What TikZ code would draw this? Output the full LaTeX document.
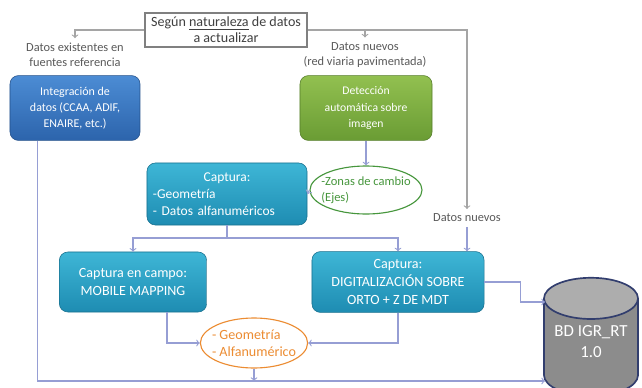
\documentclass[tikz,border=0pt]{standalone}
\usepackage{fontspec}
\setmainfont{Carlito}
\usetikzlibrary{shapes.geometric}
\definecolor{blueA}{RGB}{76,140,212}
\definecolor{blueB}{RGB}{44,100,172}
\definecolor{greenA}{RGB}{146,192,80}
\definecolor{greenB}{RGB}{106,156,52}
\definecolor{tealA}{RGB}{62,182,214}
\definecolor{tealB}{RGB}{30,140,178}
\definecolor{linegray}{RGB}{165,165,165}
\definecolor{linelav}{RGB}{150,158,212}
\definecolor{zonegreen}{RGB}{70,150,60}
\definecolor{geoorange}{RGB}{236,140,50}
\definecolor{dbnavy}{RGB}{50,62,110}
\begin{document}
\begin{tikzpicture}[x=0.025cm,y=-0.025cm]
        \tikzstyle{label}=[align=center,text=black!65,font=\fontsize{8.8}{10.8}\selectfont]
        \tikzstyle{stage}=[rounded corners=6pt,draw=#1B!80!black,top color=#1A,bottom color=#1B,text=white,align=center]
        \tikzstyle{result}=[ellipse,thick,fill=white,align=left,inner xsep=-7pt,inner ysep=0pt]
        \tikzstyle{edge}=[draw,thick,linelav,->]
        \tikzstyle{topedge}=[draw,thick,linegray,->]
        \useasboundingbox (0,0) rectangle (642,387);
        \begin{scope}
           % criterio y etiquetas
           \node [draw=black!50,thick,fill=white,minimum width=4.05cm,minimum height=0.85cm,inner sep=1pt,align=center,text=black!75,font=\fontsize{10}{11.5}\selectfont] (crit) at (226,30) {Según \underline{naturaleza} de datos\\a actualizar};
           \node [label] (existing) at (75,55) {Datos existentes en\\fuentes referencia};
           \node [label] (newdata) at (365,55) {Datos nuevos\\(red viaria pavimentada)};
           \node [label] (newdata2) at (467,218) {Datos nuevos};
           % procesos
           \node [stage=blue,minimum width=3.25cm,minimum height=1.62cm,font=\fontsize{8.5}{11.5}\selectfont] (integ) at (75,108) {Integración de\\datos (CCAA, ADIF,\\ENAIRE, etc.)};
           \node [stage=green,minimum width=3.3cm,minimum height=1.62cm,font=\fontsize{8.3}{11.5}\selectfont] (detect) at (366,108) {Detección\\automática sobre\\imagen};
           \node [stage=teal,minimum width=4cm,minimum height=1.55cm,text width=3.7cm,inner xsep=0.12cm,align=left,font=\fontsize{9.6}{12}\selectfont] (capt) at (227,194) {\makebox[\linewidth]{Captura:}\\-Geometría\\- Datos alfanuméricos};
           \node [stage=teal,minimum width=3.68cm,minimum height=1.5cm,font=\fontsize{10}{13}\selectfont] (mobile) at (133,282) {Captura en campo:\\MOBILE MAPPING};
           \node [stage=teal,minimum width=4.3cm,minimum height=1.52cm,font=\fontsize{10}{12.5}\selectfont] (digit) at (398,282) {Captura:\\DIGITALIZACIÓN SOBRE\\ORTO + Z DE MDT};
           % resultados
           \node [result,draw=zonegreen,text=zonegreen,minimum width=2.8cm,minimum height=1.2cm,font=\fontsize{8.9}{11}\selectfont] (zones) at (366,190) {-Zonas de cambio\\(Ejes)};
           \node [result,draw=geoorange,text=geoorange,minimum width=2.68cm,minimum height=1.25cm,font=\fontsize{10}{12}\selectfont] (geo) at (254,343) {- Geometría\\- Alfanumérico};
           \node [cylinder,shape border rotate=90,aspect=0.5,draw=dbnavy,line width=1.2pt,cylinder uses custom fill,cylinder body fill=black!45,cylinder end fill=black!32,minimum width=2.35cm,minimum height=2.95cm,text=white,align=center,font=\fontsize{12}{15}\selectfont] (db) at (591,352) {BD IGR\_RT\\1.0\\\mbox{}};
           \coordinate (split) at (227,238);
           \coordinate (dbin1) at (545,302);
           \coordinate (dbin2) at (545,381);
           % conexiones
           \path[topedge] (crit.west) -| (existing.north);
           \path[topedge] (crit.east) -| (newdata2.north);
           \path[topedge] (newdata.north |- crit.east) -- (newdata.north);
           \path[edge] (detect.south) -- (zones.north);
           \path[edge] (zones.west) -- (capt.east);
           \draw[thick,linelav] (capt.south) -- (split);
           \path[edge] (split) -| (mobile.north);
           \path[edge] (split) -| (digit.north);
           \path[edge] (newdata2.south) -- (newdata2.south |- digit.north);
           \path[edge] ([xshift=8.5mm]mobile.south) |- (geo.west);
           \path[edge] (digit.south) |- (geo.east);
           \path[edge] (digit.east) -- ++(36,0) |- (dbin1);
           \path[edge] ([xshift=7mm]integ.south west) |- (dbin2);
           \path[edge] (geo.south) -- (geo.south |- dbin2);
        \end{scope}
      \end{tikzpicture}
\end{document}
